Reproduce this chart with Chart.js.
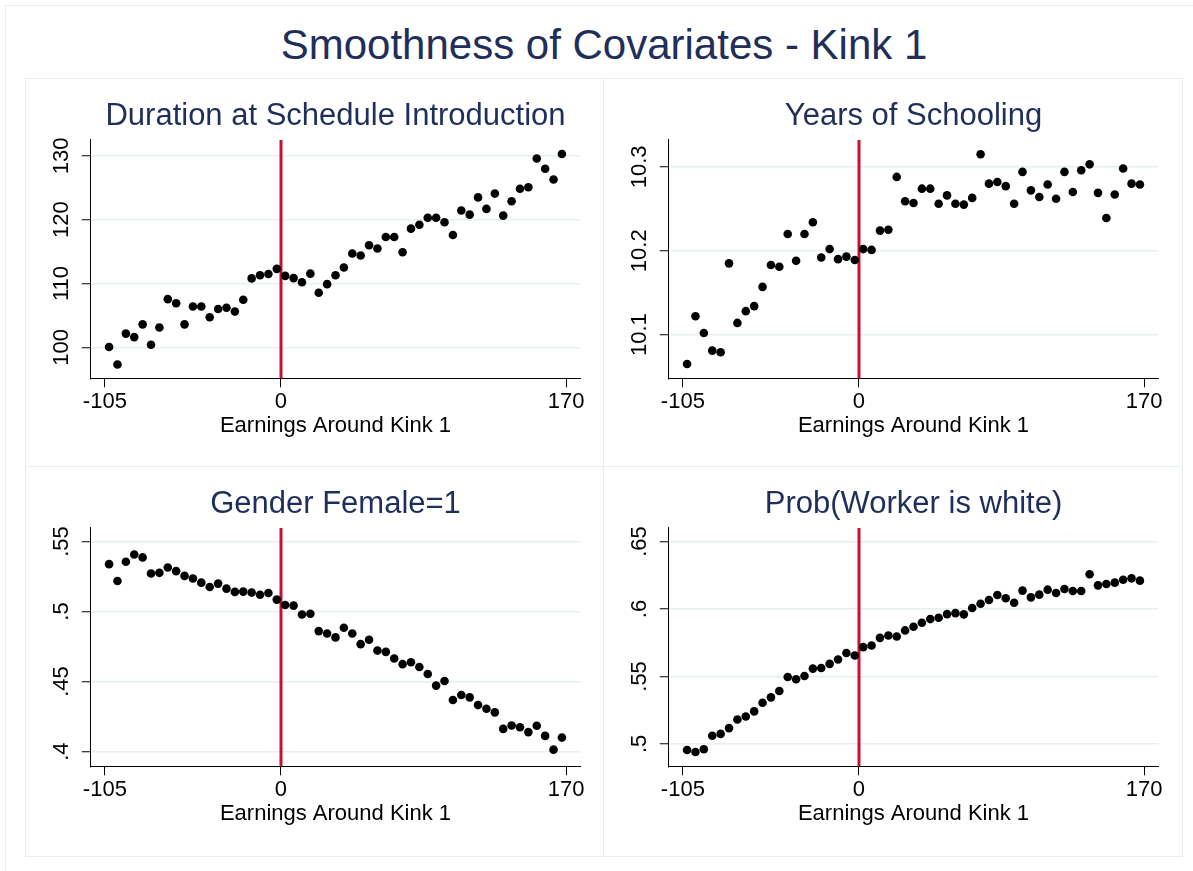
<!DOCTYPE html>
<html><head><meta charset="utf-8">
<script src="https://cdn.jsdelivr.net/npm/chart.js@4"></script>
<style>
html,body{margin:0;padding:0;background:#fff;width:1193px;height:871px;overflow:hidden;font-family:'Liberation Sans',Arial,sans-serif}
#outer{position:absolute;left:5px;top:5px;width:1210px;height:890px;border:1px solid #e6eef0;box-sizing:border-box}
#inner{position:absolute;left:25px;top:78px;width:1158px;height:779px;border:1px solid #e6eef0;box-sizing:border-box}
#vdiv{position:absolute;left:603px;top:78px;width:1px;height:779px;background:#e6eef0}
#hdiv{position:absolute;left:25px;top:466px;width:1158px;height:1px;background:#e6eef0}
#title{position:absolute;left:25px;width:1158px;top:20px;height:50px;line-height:50px;text-align:center;font-size:42px;color:#1f2e5a;white-space:nowrap}
canvas{position:absolute}
</style></head>
<body>
<div id="outer"></div>
<div id="inner"></div>
<div id="vdiv"></div>
<div id="hdiv"></div>
<div id="title">Smoothness of Covariates - Kink 1</div>
<canvas id="c1" width="578" height="388" style="left:25px;top:78px;width:578px;height:388px"></canvas>
<canvas id="c2" width="578" height="388" style="left:603px;top:78px;width:578px;height:388px"></canvas>
<canvas id="c3" width="578" height="388" style="left:25px;top:466px;width:578px;height:388px"></canvas>
<canvas id="c4" width="578" height="388" style="left:603px;top:466px;width:578px;height:388px"></canvas>
<script>
// ---- data ----
const xBins = [-102.5,-97.5,-92.5,-87.5,-82.5,-77.5,-72.5,-67.5,-62.5,-57.5,-52.5,-47.5,-42.5,-37.5,-32.5,-27.5,-22.5,-17.5,-12.5,-7.5,-2.5,
  2.5,7.5,12.5,17.5,22.5,27.5,32.5,37.5,42.5,47.5,52.5,57.5,62.5,67.5,72.5,77.5,82.5,87.5,92.5,97.5,102.5,107.5,112.5,117.5,122.5,127.5,132.5,137.5,142.5,147.5,152.5,157.5,162.5,167.5];

const durationY = [100.05,97.3,102.15,101.6,103.6,100.4,103.1,107.55,106.9,103.6,106.4,106.4,104.7,106.0,106.2,105.6,107.45,110.8,111.3,111.5,112.3,
  111.2,110.85,110.2,111.55,108.55,109.9,111.3,112.5,114.7,114.4,116.0,115.5,117.3,117.3,114.9,118.6,119.2,120.3,120.3,119.6,117.6,121.45,120.8,123.5,121.7,124.1,120.65,122.9,124.85,125.1,129.6,128.0,126.3,130.3];

const schoolingY = [10.065,10.122,10.102,10.081,10.079,10.185,10.114,10.128,10.134,10.157,10.183,10.181,10.220,10.188,10.220,10.234,10.192,10.202,10.190,10.193,10.189,
  10.202,10.201,10.224,10.225,10.288,10.259,10.257,10.274,10.274,10.256,10.266,10.256,10.255,10.263,10.315,10.280,10.282,10.277,10.256,10.294,10.272,10.264,10.279,10.262,10.294,10.270,10.296,10.303,10.269,10.239,10.267,10.298,10.280,10.279];

const femaleY = [0.5338,0.5218,0.5355,0.5407,0.5386,0.5271,0.5276,0.5314,0.5288,0.5254,0.5235,0.5206,0.5175,0.5199,0.5163,0.5140,0.5142,0.5135,0.5120,0.5132,0.5085,
  0.5046,0.5042,0.4979,0.4984,0.4860,0.4843,0.4815,0.4884,0.4843,0.4767,0.4798,0.4721,0.4712,0.4664,0.4624,0.4638,0.4604,0.4554,0.4471,0.4504,0.4368,0.4404,0.4387,0.4332,0.4306,0.4280,0.4162,0.4186,0.4174,0.4139,0.4184,0.4112,0.4014,0.4100];

const whiteY = [0.4955,0.4940,0.4960,0.5060,0.5074,0.5117,0.5181,0.5203,0.5241,0.5305,0.5345,0.5392,0.5496,0.5479,0.5503,0.5558,0.5563,0.5593,0.5625,0.5674,0.5655,
  0.5717,0.5729,0.5786,0.5803,0.5796,0.5841,0.5868,0.5898,0.5925,0.5935,0.5962,0.5969,0.5960,0.6007,0.6039,0.6066,0.6103,0.6079,0.6046,0.6136,0.6086,0.6106,0.6143,0.6118,0.6148,0.6133,0.6133,0.6257,0.6175,0.6185,0.6195,0.6217,0.6227,0.6210];

const xTickValues = [-105, 0, 170];
const xTickLabels = ['-105', '0', '170'];
const durationTicks = [100, 110, 120, 130];
const durationTickLabels = ['100', '110', '120', '130'];
const schoolingTicks = [10.1, 10.2, 10.3];
const schoolingTickLabels = ['10.1', '10.2', '10.3'];
const femaleTicks = [0.4, 0.45, 0.5, 0.55];
const femaleTickLabels = ['.4', '.45', '.5', '.55'];
const whiteTicks = [0.5, 0.55, 0.6, 0.65];
const whiteTickLabels = ['.5', '.55', '.6', '.65'];
const kinkAt = 0;
const xAxisTitle = 'Earnings Around Kink 1';

// ---- styling / layout ----
const FONT = "'Liberation Sans', Arial, sans-serif";
Chart.defaults.font.family = FONT;
const NAVY = '#1f2e5a';
const GRID = '#e6eff1';
const PL = 65.8, PR = 22.8, PT = 62, PB = 87.7;
const LABEL_OFF = 28.5, TICKLEN = 9, TICKFONT = 22;

const measureCtx = document.createElement('canvas').getContext('2d');
function widest(labels) {
  measureCtx.font = TICKFONT + 'px ' + FONT;
  return Math.max(...labels.map(l => measureCtx.measureText(l).width));
}

const kinkLine = {
  id: 'kinkLine',
  beforeDatasetsDraw(chart) {
    const {ctx, chartArea, scales} = chart;
    const px = scales.x.getPixelForValue(kinkAt);
    ctx.save();
    ctx.strokeStyle = 'rgb(200,16,50)';
    ctx.lineWidth = 3;
    ctx.beginPath();
    ctx.moveTo(px, chartArea.top);
    ctx.lineTo(px, chartArea.bottom);
    ctx.stroke();
    ctx.restore();
  }
};

function makePanel(id, title, ys, yTicks, yLabels, yMin, yMax) {
  const pad = LABEL_OFF - TICKLEN - widest(yLabels) / 2;
  new Chart(document.getElementById(id), {
    type: 'scatter',
    data: {
      datasets: [{
        data: xBins.map((x, i) => ({x: x, y: ys[i]})),
        pointRadius: 4.3,
        pointBackgroundColor: '#000',
        pointBorderWidth: 0,
        showLine: false
      }]
    },
    options: {
      responsive: false,
      animation: false,
      devicePixelRatio: 1,
      layout: {padding: {left: 0, right: PR, top: 0, bottom: 0}},
      plugins: {
        legend: {display: false},
        tooltip: {enabled: false},
        title: {
          display: true, text: title, fullSize: false, color: NAVY,
          font: {size: 31, weight: 'normal', lineHeight: 1.2},
          padding: {top: 19.4, bottom: 5.4}
        }
      },
      scales: {
        x: {
          type: 'linear', min: -113.4, max: 178.4,
          afterBuildTicks: s => { s.ticks = xTickValues.map(v => ({value: v})); },
          afterFit: s => { s.height = PB; },
          ticks: {
            autoSkip: false, minRotation: 0, maxRotation: 0, padding: 1.2,
            color: '#000', font: {size: TICKFONT},
            callback: (v, i) => xTickLabels[i]
          },
          grid: {drawOnChartArea: false, drawTicks: true, tickLength: TICKLEN, tickColor: '#000', tickWidth: 1},
          border: {display: true, color: '#000', width: 1},
          title: {display: true, text: xAxisTitle, color: '#000', font: {size: 22}, padding: {top: 0, bottom: 26.8}}
        },
        y: {
          type: 'linear', min: yMin, max: yMax,
          afterBuildTicks: s => { s.ticks = yTicks.map(v => ({value: v})); },
          afterFit: s => { s.width = PL; },
          ticks: {
            autoSkip: false, minRotation: 90, maxRotation: 90, crossAlign: 'center', padding: pad,
            color: '#000', font: {size: TICKFONT},
            callback: (v, i) => yLabels[i]
          },
          grid: {drawOnChartArea: true, color: GRID, lineWidth: 1.5, drawTicks: true, tickLength: TICKLEN, tickColor: '#000', tickWidth: 1},
          border: {display: true, color: '#000', width: 1}
        }
      }
    },
    plugins: [kinkLine]
  });
}

makePanel('c1', 'Duration at Schedule Introduction', durationY, durationTicks, durationTickLabels, 95.14, 132.5);
makePanel('c2', 'Years of Schooling', schoolingY, schoolingTicks, schoolingTickLabels, 10.048, 10.332);
makePanel('c3', 'Gender Female=1', femaleY, femaleTicks, femaleTickLabels, 0.3895, 0.5596);
makePanel('c4', 'Prob(Worker is white)', whiteY, whiteTicks, whiteTickLabels, 0.4834, 0.66);
</script>
</body></html>
